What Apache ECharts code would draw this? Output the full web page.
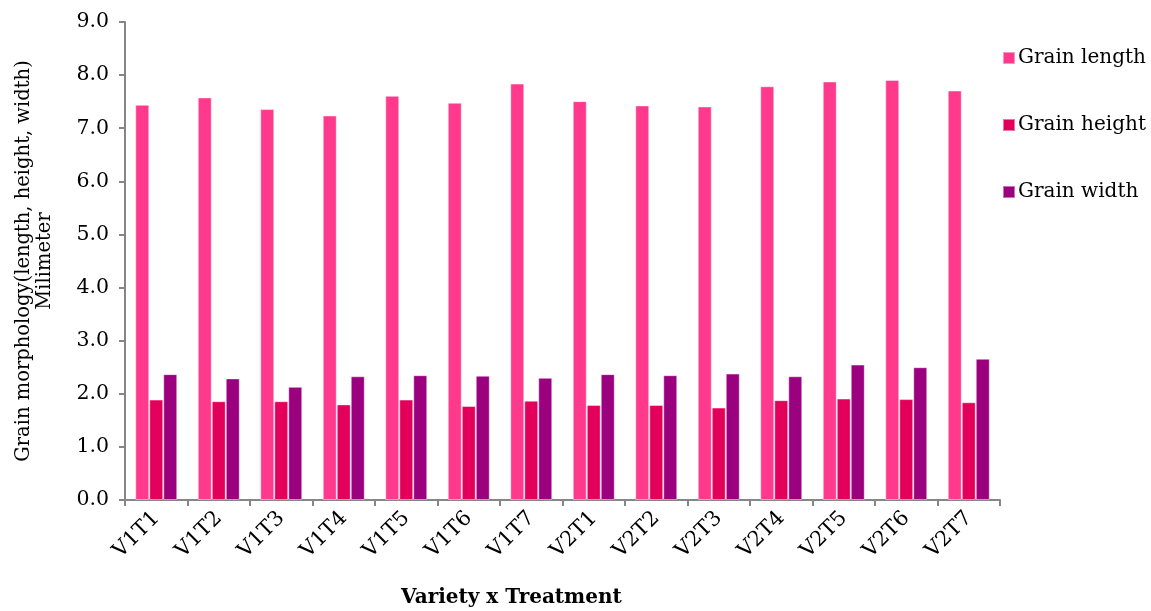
<!DOCTYPE html>
<html>
<head>
<meta charset="utf-8">
<script src="https://cdn.jsdelivr.net/npm/echarts@6/dist/echarts.min.js"></script>
<style>
  html, body { margin: 0; padding: 0; background: #fff; }
  #chart { width: 1151px; height: 611px; }
</style>
</head>
<body>
<div id="chart"></div>
<script>
// categories (variety x treatment)
var categories = ['V1T1','V1T2','V1T3','V1T4','V1T5','V1T6','V1T7','V2T1','V2T2','V2T3','V2T4','V2T5','V2T6','V2T7'];
// grain morphology in mm
var grainLength = [7.44, 7.58, 7.36, 7.24, 7.61, 7.48, 7.84, 7.51, 7.43, 7.41, 7.79, 7.88, 7.91, 7.71];
var grainHeight = [1.89, 1.86, 1.86, 1.80, 1.89, 1.77, 1.87, 1.79, 1.79, 1.74, 1.88, 1.91, 1.90, 1.84];
var grainWidth  = [2.37, 2.29, 2.13, 2.33, 2.35, 2.34, 2.30, 2.37, 2.35, 2.38, 2.33, 2.55, 2.50, 2.66];

var font = 'DejaVu Serif';
var chart = echarts.init(document.getElementById('chart'));

function barSeries (name, data, color) {
  return {
    name: name,
    type: 'bar',
    data: data,
    barWidth: 14,
    barGap: '0%',
    itemStyle: {
      color: color,
      borderColor: 'rgba(255,255,255,0.45)',
      borderWidth: 1
    }
  }
}

chart.setOption({
  animation: false,
  textStyle: { fontFamily: font },
  title: {
    text: 'Variety x Treatment',
    left: 396,
    top: 583,
    textStyle: { fontFamily: font, fontSize: 20, fontWeight: 'bold', color: '#000' }
  },
  legend: {
    orient: 'vertical',
    left: 997,
    top: 43,
    itemWidth: 12,
    itemHeight: 12,
    itemGap: 47,
    icon: 'rect',
    textStyle: { fontFamily: font, fontSize: 20, color: '#000', padding: [0, 0, 0, -2] },
    data: ['Grain length', 'Grain height', 'Grain width']
  },
  grid: { left: 125, right: 151, top: 22, bottom: 111, outerBoundsMode: 'none', containLabel: false },
  xAxis: {
    type: 'category',
    data: categories,
    axisLine: { lineStyle: { color: '#868686', width: 2 } },
    axisTick: { show: true, length: 6, lineStyle: { color: '#868686', width: 2 } },
    axisLabel: { interval: 0, rotate: 45, fontFamily: font, fontSize: 21, color: '#000', margin: 15 }
  },
  yAxis: {
    type: 'value',
    min: 0,
    max: 9,
    interval: 1,
    name: 'Grain morphology(length, height, width)\nMilimeter',
    nameLocation: 'middle',
    nameRotate: 90,
    nameGap: 70,
    nameTextStyle: { fontFamily: font, fontSize: 19.5, color: '#000', lineHeight: 21 },
    splitLine: { show: false },
    axisLine: { show: true, lineStyle: { color: '#868686', width: 2 } },
    axisTick: { show: true, length: 6, lineStyle: { color: '#868686', width: 2 } },
    axisLabel: {
      fontFamily: font, fontSize: 20.5, color: '#000', margin: 16,
      formatter: function (v) { return v.toFixed(1) }
    }
  },
  series: [
    barSeries('Grain length', grainLength, '#FF3A8C'),
    barSeries('Grain height', grainHeight, '#E3005A'),
    barSeries('Grain width', grainWidth, '#9B007E')
  ]
});
</script>
</body>
</html>
